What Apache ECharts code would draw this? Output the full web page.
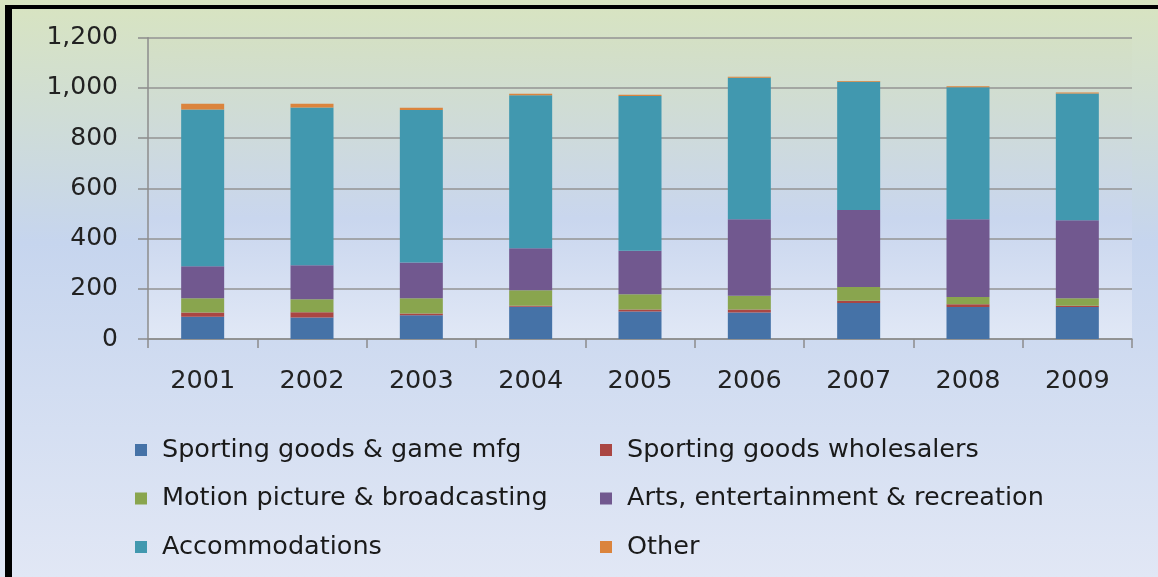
<!DOCTYPE html>
<html>
<head>
<meta charset="utf-8">
<script src="https://cdn.jsdelivr.net/npm/echarts@6/dist/echarts.min.js"></script>
<style>
html,body{margin:0;padding:0;background:#fff;}
#wrap{position:relative;width:1158px;height:577px;overflow:hidden;background:#fff;}
#chart{position:absolute;left:0;top:0;width:1158px;height:577px;}
#bTop{position:absolute;left:5px;top:5px;width:1153px;height:4px;background:#000;}
#bLeft{position:absolute;left:5px;top:5px;width:7px;height:572px;background:#000;}
</style>
</head>
<body>
<div id="wrap">
<div id="chart"></div>
<div id="bTop"></div>
<div id="bLeft"></div>
</div>
<script>
const years = ['2001','2002','2003','2004','2005','2006','2007','2008','2009'];
const seriesNames = ['Sporting goods & game mfg','Sporting goods wholesalers','Motion picture & broadcasting','Arts, entertainment & recreation','Accommodations','Other'];
const sportingMfg   = [89, 86, 95, 128, 110, 106, 143, 127, 127];
const sportingWhole = [17, 21, 7, 4, 7, 11, 9, 11, 5];
const motionPicture = [56, 51, 60, 62, 61, 55, 55, 29, 30];
const artsEnt       = [128, 136, 143, 167, 173, 305, 307, 310, 311];
const accommodations= [624, 628, 607, 610, 617, 563, 511, 526, 505];
const other         = [23, 15, 9, 6, 5, 4, 3, 4, 4];
const yTicks = [0, 200, 400, 600, 800, 1000, 1200];

const colors = ['#4572a7','#aa4643','#89a54e','#71588f','#4198af','#db843d'];
const seriesData = [sportingMfg, sportingWhole, motionPicture, artsEnt, accommodations, other];

const chart = echarts.init(document.getElementById('chart'), null, {renderer:'canvas'});
const font = 'DejaVu Sans';
const legendCommon = {
  orient:'vertical', top:437, padding:0, itemWidth:12, itemHeight:12, itemGap:22.5,
  icon:'rect', selectedMode:false,
  textStyle:{fontFamily:font, fontSize:25.5, lineHeight:25, color:'#1a1a1a', padding:[0,0,0,10]}
};
chart.setOption({
  animation:false,
  backgroundColor:{type:'linear',x:0,y:0,x2:0,y2:1,colorStops:[
    {offset:0,color:'#d8e4c0'},{offset:0.42,color:'#c6d5ee'},{offset:1,color:'#e1e7f5'}]},
  color: colors,
  grid:{left:148, right:26, top:37.7, bottom:238, show:true, borderWidth:0,
    backgroundColor:{type:'linear',x:0,y:0,x2:0,y2:1,colorStops:[
      {offset:0,color:'#d4e0c4'},{offset:0.6,color:'#c9d6ee'},{offset:1,color:'#e1e8f6'}]}},
  legend:[
    Object.assign({left:135, data:[seriesNames[0],seriesNames[2],seriesNames[4]]}, legendCommon),
    Object.assign({left:600, data:[seriesNames[1],seriesNames[3],seriesNames[5]]}, legendCommon)
  ],
  xAxis:{type:'category', data:years, boundaryGap:true,
    axisLine:{lineStyle:{color:'#8c8c8c', width:1.5}},
    axisTick:{show:true, length:9, alignWithLabel:false, lineStyle:{color:'#8c8c8c', width:1.5}},
    axisLabel:{fontFamily:font, fontSize:25.5, color:'#222', margin:29}},
  yAxis:{type:'value', min:yTicks[0], max:yTicks[yTicks.length-1], interval:200,
    axisLine:{show:true, lineStyle:{color:'#8c8c8c', width:1.5}},
    axisTick:{show:true, length:10, lineStyle:{color:'#8c8c8c', width:1.5}},
    splitLine:{lineStyle:{color:'#939393', width:1.5}},
    axisLabel:{fontFamily:font, fontSize:25, color:'#222', margin:30,
      formatter:v=>v.toLocaleString('en-US')}},
  series: seriesNames.map((n,i)=>({
    name:n, type:'bar', stack:'total', barWidth:43, data:seriesData[i],
    itemStyle:{color:colors[i]}
  }))
});
</script>
</body>
</html>
